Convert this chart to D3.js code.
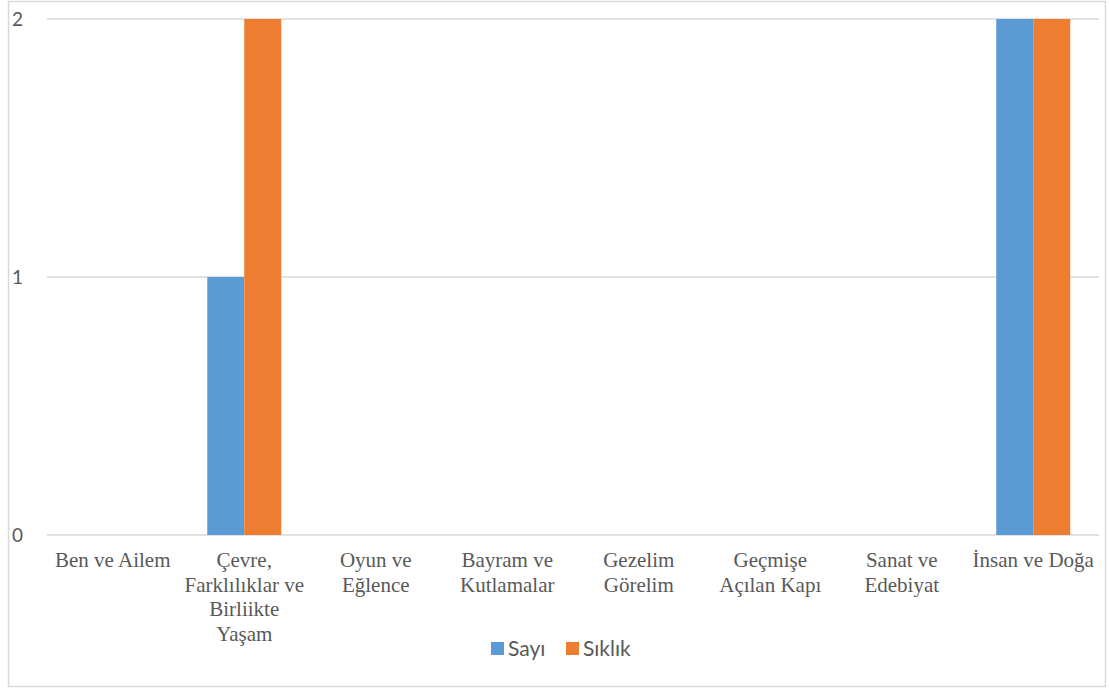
<!DOCTYPE html>
<html><head><meta charset="utf-8">
<script src="https://cdn.jsdelivr.net/npm/d3@7"></script>
<style>body{margin:0;background:#fff}</style>
</head><body>
<svg id="c" width="1109" height="688"></svg>
<script>
const categories = ["Ben ve Ailem","Çevre,\nFarklılıklar ve\nBirliikte\nYaşam","Oyun ve\nEğlence","Bayram ve\nKutlamalar","Gezelim\nGörelim","Geçmişe\nAçılan Kapı","Sanat ve\nEdebiyat","İnsan ve Doğa"];
const seriesNames = ["Sayı","Sıklık"];
const sayi = [0,1,0,0,0,0,0,2];
const siklik = [0,2,0,0,0,0,0,2];
const yTicks = [0,1,2];
const colors = ["#5b9bd5","#ed7d31"];

const svg = d3.select("#c");
svg.append("rect").attr("x",8.5).attr("y",1.5).attr("width",1097).attr("height",685)
  .attr("fill","#fff").attr("stroke","#d9d9d9").attr("stroke-width",1.5);

const x0 = d3.scaleBand().domain(categories).range([47,1099]).padding(0);
const x1 = d3.scaleBand().domain(seriesNames).range([0,x0.bandwidth()]).paddingInner(0).paddingOuter(0.777);
const y = d3.scaleLinear().domain([0,2]).range([535,19]);

// gridlines
svg.append("g").selectAll("line").data(yTicks).join("line")
  .attr("x1",47).attr("x2",1099).attr("y1",d=>y(d)).attr("y2",d=>y(d))
  .attr("stroke","#d9d9d9").attr("stroke-width",1.5);

// y labels
svg.append("g").selectAll("text").data(yTicks).join("text")
  .attr("x",23).attr("y",d=>y(d)).attr("dy","0.35em").attr("text-anchor","end")
  .attr("font-family","Lato, 'Open Sans', sans-serif").attr("font-size",19).attr("fill","#595959")
  .text(d=>d);

// bars
const data = categories.map((c,i)=>({c, vals:[sayi[i],siklik[i]]}));
const g = svg.append("g");
data.forEach(d=>{
  d.vals.forEach((v,j)=>{
    if(v<=0) return;
    g.append("rect")
      .attr("x",x0(d.c)+x1(seriesNames[j]))
      .attr("y",y(v)).attr("width",x1.bandwidth()).attr("height",y(0)-y(v))
      .attr("fill",colors[j]);
  });
});

// category labels
const cl = svg.append("g");
categories.forEach(c=>{
  const t = cl.append("text").attr("text-anchor","middle")
    .attr("font-family","'Liberation Serif','Times New Roman',serif").attr("font-size",21).attr("fill","#595959");
  c.split("\n").forEach((line,i)=>{
    t.append("tspan").attr("x",x0(c)+x0.bandwidth()/2).attr("y",567+i*24.5).text(line);
  });
});

// legend
const lg = svg.append("g").attr("font-family","Lato, 'Open Sans', sans-serif").attr("font-size",21).attr("fill","#595959");
const legX = [491,566];
seriesNames.forEach((s,i)=>{
  lg.append("rect").attr("x",legX[i]).attr("y",642).attr("width",13).attr("height",13).attr("fill",colors[i]);
  lg.append("text").attr("x",legX[i]+17).attr("y",649).attr("dy","0.35em").text(s);
});
</script>
</body></html>
